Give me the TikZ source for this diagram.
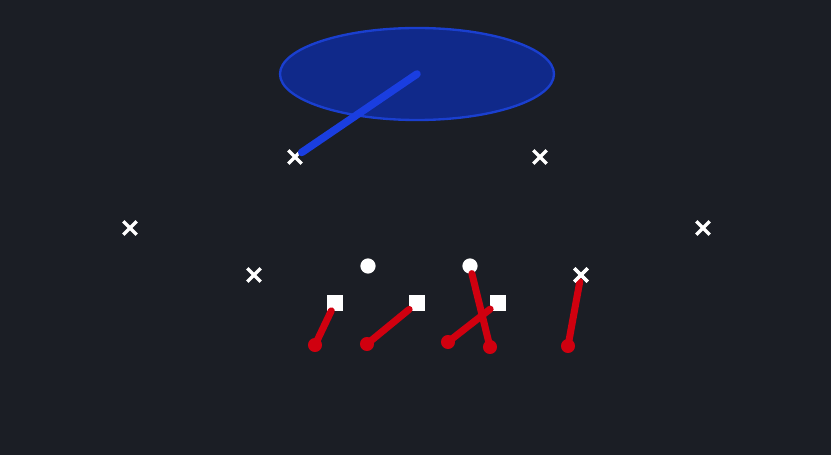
\documentclass[tikz,border=0pt]{standalone}
\usepackage[]{xcolor}
\usetikzlibrary{shapes.geometric,shapes.misc}
\definecolor{field}{HTML}{1B1E25}
\definecolor{zonefill}{HTML}{10298A}
\definecolor{zoneline}{HTML}{1A3FCF}
\definecolor{routeblue}{HTML}{1A3EE0}
\definecolor{routered}{HTML}{D0000F}

\begin{document}
\begin{tikzpicture}[
            x=0.03cm, y=-0.03cm,
            zone/.style={ellipse, draw=zoneline, line width=2pt, fill=zonefill, minimum width=274*0.03cm, minimum height=92*0.03cm, inner sep=0pt},
            defender/.style={cross out, draw=white, line width=3pt, minimum size=8.5pt, inner sep=0pt},
            receiver/.style={circle, fill=white, minimum size=13pt, inner sep=0pt},
            blocker/.style={rectangle, fill=white, minimum size=13pt, inner sep=0pt},
            coverage/.style={routeblue, line width=6.5pt, line cap=round},
            route/.style={routered, line width=6pt, line cap=round}
        ]
            \fill[field] (0,0) rectangle (831,455);
            \useasboundingbox (0,0) rectangle (831,455);

            \node[zone] (Z) at (417,74) {};

            \node[defender] (D1) at (295,157) {};
            \node[defender] (D2) at (540,157) {};
            \node[defender] (D3) at (130,228) {};
            \node[defender] (D4) at (703,228) {};
            \node[defender] (D5) at (254,275) {};
            \node[defender] (D6) at (581,275) {};

            \node[receiver] (R1) at (368,266) {};
            \node[receiver] (R2) at (470,266) {};

            \node[blocker] (B1) at (335,303) {};
            \node[blocker] (B2) at (417,303) {};
            \node[blocker] (B3) at (498,303) {};

            \coordinate (E1) at (315,345);
            \coordinate (E2) at (367,344);
            \coordinate (E3) at (490,347);
            \coordinate (E4) at (448,342);
            \coordinate (E5) at (568,346);

            \draw[coverage] (Z.center) -- (D1);

            \draw[route] (B1) -- (E1);
            \draw[route] (B2) -- (E2);
            \draw[route] (R2) -- (E3);
            \draw[route] (B3) -- (E4);
            \draw[route] (D6) -- (E5);
            \foreach \e in {E1,E2,E3,E4,E5}
                \fill[routered] (\e) circle (6pt);

            \node[defender] at (D6) {};
        \end{tikzpicture}
\end{document}
